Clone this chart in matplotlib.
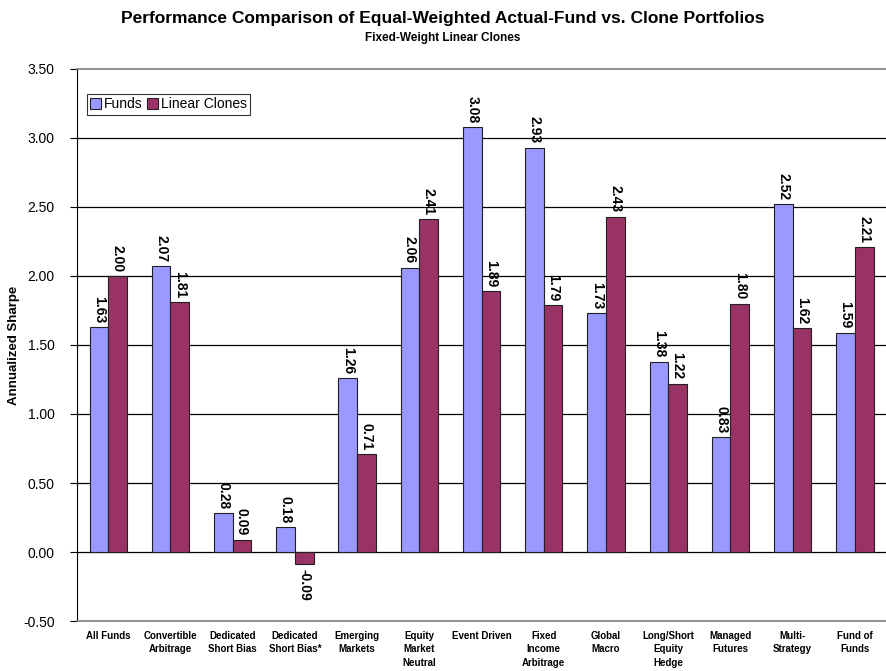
import numpy as np
import matplotlib.pyplot as plt

plt.rcParams['font.family'] = ['Liberation Sans', 'DejaVu Sans']

categories = ['All Funds', 'Convertible\nArbitrage', 'Dedicated\nShort Bias', 'Dedicated\nShort Bias*',
              'Emerging\nMarkets', 'Equity\nMarket\nNeutral', 'Event Driven', 'Fixed\nIncome\nArbitrage',
              'Global\nMacro', 'Long/Short\nEquity\nHedge', 'Managed\nFutures', 'Multi-\nStrategy',
              'Fund of\nFunds']
funds = [1.63, 2.07, 0.28, 0.18, 1.26, 2.06, 3.08, 2.93, 1.73, 1.38, 0.83, 2.52, 1.59]
clones = [2.00, 1.81, 0.09, -0.09, 0.71, 2.41, 1.89, 1.79, 2.43, 1.22, 1.80, 1.62, 2.21]

fig = plt.figure(figsize=(8.86, 6.71), dpi=100)
ax = fig.add_axes([0.087, 0.0745, 0.913, 0.8227])

x = np.arange(len(categories))
w = 0.3
b1 = ax.bar(x - w / 2, funds, w, color='#9999FF', edgecolor='#202020', linewidth=0.8, label='Funds', zorder=3)
b2 = ax.bar(x + w / 2, clones, w, color='#993366', edgecolor='#202020', linewidth=0.8, label='Linear Clones', zorder=3)

# value labels, rotated, above (or below) each bar
for bars, vals in [(b1, funds), (b2, clones)]:
    for r, v in zip(bars, vals):
        xc = r.get_x() + r.get_width() / 2
        if v >= 0:
            ax.text(xc, v + 0.03, f'{v:.2f}', rotation=270, ha='center', va='bottom',
                    fontsize=10, fontweight='bold', zorder=4)
        else:
            ax.text(xc, v - 0.03, f'{v:.2f}', rotation=270, ha='center', va='top',
                    fontsize=10, fontweight='bold', zorder=4)

ticks = np.arange(-0.5, 3.51, 0.5)
ax.set_xlim(-0.5, len(categories) - 0.5)
ax.set_ylim(-0.5, 3.5)
ax.set_yticks(ticks)
ax.set_yticklabels([f'{t:.2f}' for t in ticks], fontsize=10)
ax.set_xticks(x)
ax.set_xticklabels(categories, fontsize=7, fontweight='bold', va='top', linespacing=1.45)
ax.tick_params(axis='x', length=0, pad=7)
ax.tick_params(axis='y', length=5, direction='out', width=0.8, pad=11)

for g in np.arange(0, 3.01, 0.5):
    ax.axhline(g, color='black', linewidth=0.9, zorder=1)

ax.spines['right'].set_visible(False)
ax.spines['top'].set_color('#808080')
ax.spines['bottom'].set_color('#808080')
ax.spines['top'].set_linewidth(1.2)
ax.spines['bottom'].set_linewidth(1.2)
ax.spines['left'].set_color('black')
ax.spines['left'].set_linewidth(0.8)

ax.set_ylabel('Annualized Sharpe', fontsize=9.5, fontweight='bold')
ax.yaxis.set_label_coords(-0.07, 0.5)

leg = ax.legend(loc='upper left', bbox_to_anchor=(0.012, 0.955), ncol=2, fontsize=10,
                frameon=True, fancybox=False, edgecolor='black', handlelength=0.8,
                handleheight=0.8, handletextpad=0.2, columnspacing=0.3, borderpad=0.25,
                borderaxespad=0)
leg.get_frame().set_linewidth(0.8)

fig.text(0.5, 0.972, 'Performance Comparison of Equal-Weighted Actual-Fund vs. Clone Portfolios',
         ha='center', va='center', fontsize=12.5, fontweight='bold')
fig.text(0.5, 0.944, 'Fixed-Weight Linear Clones', ha='center', va='center', fontsize=8.5, fontweight='bold')

fig.savefig('out.png', dpi=100)
